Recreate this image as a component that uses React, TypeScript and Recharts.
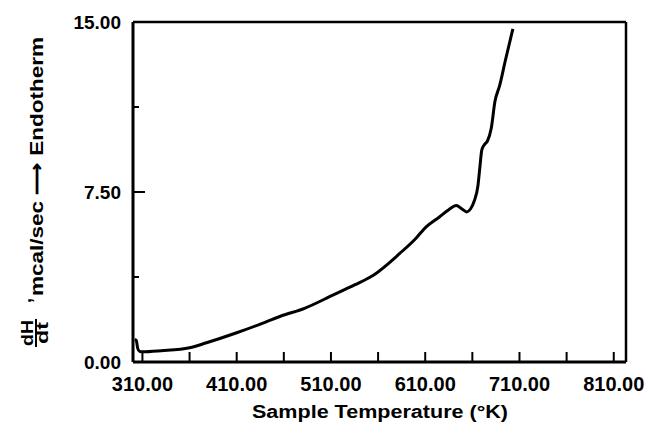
import { LineChart, Line, XAxis, YAxis, ReferenceLine } from "recharts";

// sample temperature (°K) and dH/dt (mcal/sec)
const temps = [
  301.8, 303.5, 305, 307, 310, 330, 360, 378, 410, 440, 457, 482, 512, 535, 555, 583, 600, 611,
  625, 635, 643, 649, 654, 658, 662, 666, 668, 670, 673, 676, 680, 684, 689, 695, 703,
];
const heatFlow = [
  1.0, 0.95, 0.6, 0.47, 0.45, 0.5, 0.63, 0.85, 1.29, 1.75, 2.03, 2.37, 2.95, 3.4, 3.83, 4.79, 5.45, 5.96,
  6.4, 6.72, 6.9, 6.75, 6.62, 6.75, 7.1, 7.8, 8.6, 9.35, 9.6, 9.75, 10.3, 11.5, 12.2, 13.3, 14.7,
];

const xTicks = [310, 360, 410, 460, 510, 560, 610, 660, 710, 760, 810];
const xLabels = [310, 410, 510, 610, 710, 810];
const yTicks = [0, 3.75, 7.5, 11.25, 15];
const yLabels = [0, 7.5, 15];
const xDomain = [300, 823];
const yDomain = [0, 15];

const W = 647;
const H = 425;
const LEFT = 133;
const TOP = 22;
const BOTTOM = 362;
const FONT = "'Liberation Sans', Arial, Helvetica, sans-serif";

const data = temps.map((t, i) => ({ t, v: heatFlow[i] }));

function XTick(props: any) {
  const x = props.payload.coordinate;
  const v = props.payload.value;
  return (
    <g>
      <line x1={x} x2={x} y1={BOTTOM} y2={BOTTOM - 10} stroke="#000" strokeWidth={2} />
      {xLabels.includes(v) && (
        <text x={x} y={BOTTOM + 29} textAnchor="middle" fontFamily={FONT} fontWeight="bold" fontSize={20} fill="#000">
          {v.toFixed(2)}
        </text>
      )}
    </g>
  );
}

function YTick(props: any) {
  const y = props.payload.coordinate;
  const v = props.payload.value;
  const len = v === 7.5 ? 12 : 6;
  return (
    <g>
      {v > 0 && v < 15 && <line x1={LEFT} x2={LEFT + len} y1={y} y2={y} stroke="#000" strokeWidth={2} />}
      {yLabels.includes(v) && (
        <text x={LEFT - 12} y={y + 7} textAnchor="end" fontFamily={FONT} fontWeight="bold" fontSize={19} fill="#000">
          {v.toFixed(2)}
        </text>
      )}
    </g>
  );
}

function XTitle() {
  return (
    <text x={380} y={418} textAnchor="middle" fontFamily={FONT} fontWeight="bold" fontSize={18} fill="#000" textLength={256} lengthAdjust="spacingAndGlyphs">
      Sample Temperature (°K)
    </text>
  );
}

function YTitle() {
  return (
    <g transform="translate(43,0) rotate(-90)" fontFamily={FONT} fontWeight="bold" fill="#000">
      <text x={-296} y={0} fontSize={18} textLength={259} lengthAdjust="spacingAndGlyphs">
        mcal/sec {"\u27F6"} Endotherm
      </text>
      <text x={-303} y={-12} fontSize={18}>,</text>
      <text x={-333} y={-10} fontSize={16} textAnchor="middle" textLength={26} lengthAdjust="spacingAndGlyphs">dH</text>
      <line x1={-347} x2={-319} y1={-7} y2={-7} stroke="#000" strokeWidth={2} />
      <text x={-333} y={5} fontSize={16} textAnchor="middle" textLength={22} lengthAdjust="spacingAndGlyphs">dt</text>
    </g>
  );
}

export default function App() {
  return (
    <div style={{ position: "absolute", left: 0, top: 0, background: "#fff" }}>
      <LineChart width={W} height={H} data={data} margin={{ top: TOP, right: W - 626, bottom: 0, left: 0 }}>
        <XAxis
          dataKey="t"
          type="number"
          domain={xDomain}
          ticks={xTicks}
          interval={0}
          allowDataOverflow
          tick={<XTick />}
          tickLine={false}
          tickSize={0}
          height={H - BOTTOM}
          axisLine={{ stroke: "#000", strokeWidth: 3 }}
          label={<XTitle />}
        />
        <YAxis
          type="number"
          domain={yDomain}
          ticks={yTicks}
          interval={0}
          width={LEFT}
          tick={<YTick />}
          tickLine={false}
          tickSize={0}
          axisLine={{ stroke: "#000", strokeWidth: 3 }}
          label={<YTitle />}
        />
        <ReferenceLine y={yDomain[1]} stroke="#000" strokeWidth={2.5} />
        <ReferenceLine x={xDomain[1]} stroke="#000" strokeWidth={2.5} />
        <Line dataKey="v" type="monotone" stroke="#000" strokeWidth={3} dot={false} isAnimationActive={false} />
      </LineChart>
    </div>
  );
}
